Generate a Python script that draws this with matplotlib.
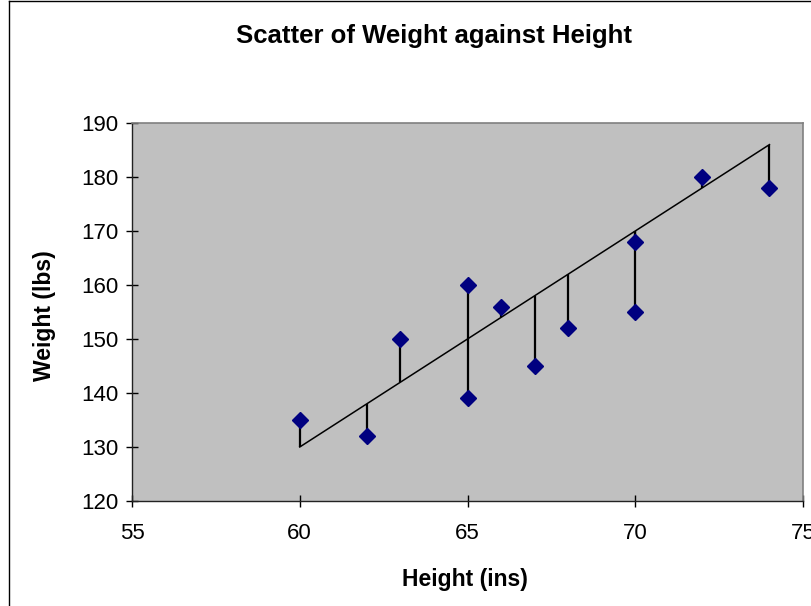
import matplotlib
matplotlib.use("Agg")
import matplotlib.pyplot as plt
from matplotlib.lines import Line2D

# Height (ins) and weight (lbs) of the sample
height = [60, 62, 63, 65, 65, 66, 67, 68, 70, 70, 72, 74]
weight = [135, 132, 150, 160, 139, 156, 145, 152, 168, 155, 180, 178]

# Fitted line: weight = intercept + slope * height
intercept = -110
slope = 4
fit_x = [60, 74]

x_ticks = [55, 60, 65, 70, 75]
y_ticks = [120, 130, 140, 150, 160, 170, 180, 190]

plt.rcParams['font.family'] = ['Liberation Sans', 'DejaVu Sans']

W, H = 811, 606
fig = plt.figure(figsize=(W / 100, H / 100), dpi=100)
fig.patch.set_facecolor('white')

ax = fig.add_axes([132 / W, 1 - 501 / H, (803 - 132) / W, (501 - 123) / H])
ax.set_facecolor('#c0c0c0')

# Residual segments from each point to the fitted line
for hx, wy in zip(height, weight):
    ax.plot([hx, hx], [wy, intercept + slope * hx], color='black', lw=1.6,
            solid_capstyle='butt', zorder=2)

# Fitted line
ax.plot(fit_x, [intercept + slope * v for v in fit_x], color='black', lw=1.1, zorder=2)

# Observations
ax.plot(height, weight, linestyle='none', marker='D', markersize=8.3,
        markerfacecolor='#000080', markeredgecolor='#000080', zorder=3)

ax.set_xlim(55, 75)
ax.set_ylim(120, 190)
ax.set_xticks(x_ticks)
ax.set_yticks(y_ticks)
ax.tick_params(direction='inout', length=8, width=1, colors='black', labelsize=16)
ax.tick_params(axis='x', pad=12)
ax.tick_params(axis='y', pad=6)

for side in ('left', 'bottom'):
    ax.spines[side].set_color('#222222')
    ax.spines[side].set_linewidth(1)
for side in ('top', 'right'):
    ax.spines[side].set_color('#808080')
    ax.spines[side].set_linewidth(1.2)

fig.text(465 / W, 1 - 586 / H, 'Height (ins)', fontsize=16.5, fontweight='bold',
         ha='center', va='baseline')
fig.text(44 / W, 1 - 316 / H, 'Weight (lbs)', fontsize=16.5, fontweight='bold',
         ha='center', va='center', rotation=90)
fig.text(434 / W, 1 - 43 / H, 'Scatter of Weight against Height',
         fontsize=18.5, fontweight='bold', ha='center', va='baseline')

# Chart-area border
fig.add_artist(Line2D([8.5 / W, 8.5 / W], [0, 1 - 1 / H], transform=fig.transFigure,
                      color='black', lw=1))
fig.add_artist(Line2D([8.5 / W, 1], [1 - 1 / H, 1 - 1 / H], transform=fig.transFigure,
                      color='black', lw=1))

fig.savefig('out.png', dpi=100)
